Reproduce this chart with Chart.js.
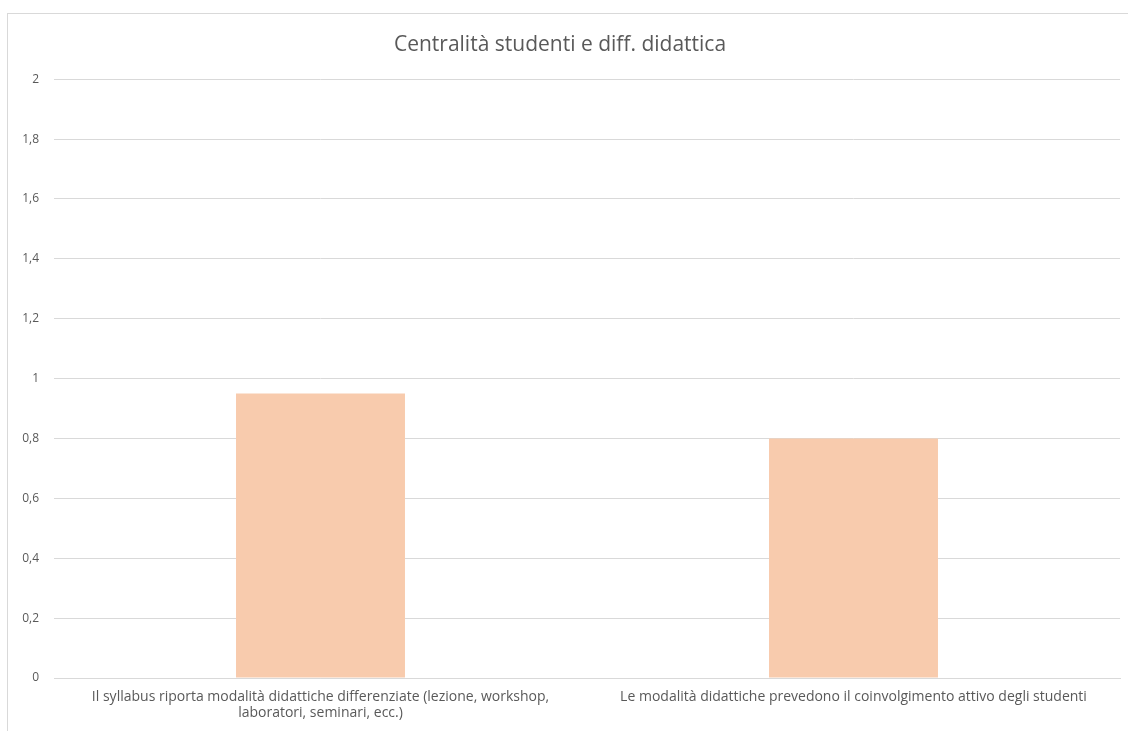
<!DOCTYPE html>
<html>
<head>
<meta charset="utf-8">
<script src="https://cdn.jsdelivr.net/npm/chart.js@4/dist/chart.umd.min.js"></script>
<style>
  html, body { margin: 0; padding: 0; background: #ffffff; overflow: hidden; }
  body { width: 1128px; height: 731px; position: relative; }
  #frame {
    position: absolute; left: 7px; top: 13px; width: 1130px; height: 740px;
    border: 1px solid #d9d9d9; box-sizing: border-box;
  }
  #wrap { position: absolute; left: 0; top: 0; width: 1128px; height: 731px; }
</style>
</head>
<body>
<div id="frame"></div>
<div id="wrap"><canvas id="chart" width="1128" height="731"></canvas></div>
<script>
const chartTitle = 'Centralità studenti e diff. didattica';
const categories = [
  ['Il syllabus riporta modalità didattiche differenziate (lezione, workshop,', 'laboratori, seminari, ecc.)'],
  'Le modalità didattiche prevedono il coinvolgimento attivo degli studenti'
];
const values = [0.95, 0.8];
const yMin = 0;
const yMax = 2;
const yStep = 0.2;

const textColor = '#595959';
const gridColor = '#d9d9d9';
const barColor = '#F8CBAD';
const fontFamily = '"Open Sans", Lato, sans-serif';

new Chart(document.getElementById('chart'), {
  type: 'bar',
  data: {
    labels: categories,
    datasets: [{
      data: values,
      backgroundColor: barColor,
      borderWidth: 0,
      barPercentage: 0.317,
      categoryPercentage: 1
    }]
  },
  options: {
    responsive: false,
    animation: false,
    layout: { padding: { left: 0, right: 8, top: 0, bottom: 0 } },
    plugins: {
      legend: { display: false },
      tooltip: { enabled: false },
      title: {
        display: true,
        text: chartTitle,
        color: textColor,
        font: { family: fontFamily, size: 21, weight: 'normal', lineHeight: 1.2 },
        padding: { top: 32, bottom: 22 }
      }
    },
    scales: {
      x: {
        grid: { display: false, drawTicks: false },
        border: { display: true, color: gridColor, width: 1 },
        ticks: {
          color: textColor,
          font: { family: fontFamily, size: 14, lineHeight: 1.15 },
          padding: 11,
          maxRotation: 0,
          autoSkip: false
        },
        afterFit: (scale) => { scale.height = 53; }
      },
      y: {
        min: yMin,
        max: yMax,
        grid: { color: gridColor, lineWidth: 1, drawTicks: false },
        border: { display: false },
        ticks: {
          stepSize: yStep,
          color: textColor,
          font: { family: fontFamily, size: 12 },
          padding: 15,
          callback: (v) => String(Number(v.toFixed(1))).replace('.', ',')
        },
        afterFit: (scale) => { scale.width = 54; }
      }
    }
  }
});
</script>
</body>
</html>
